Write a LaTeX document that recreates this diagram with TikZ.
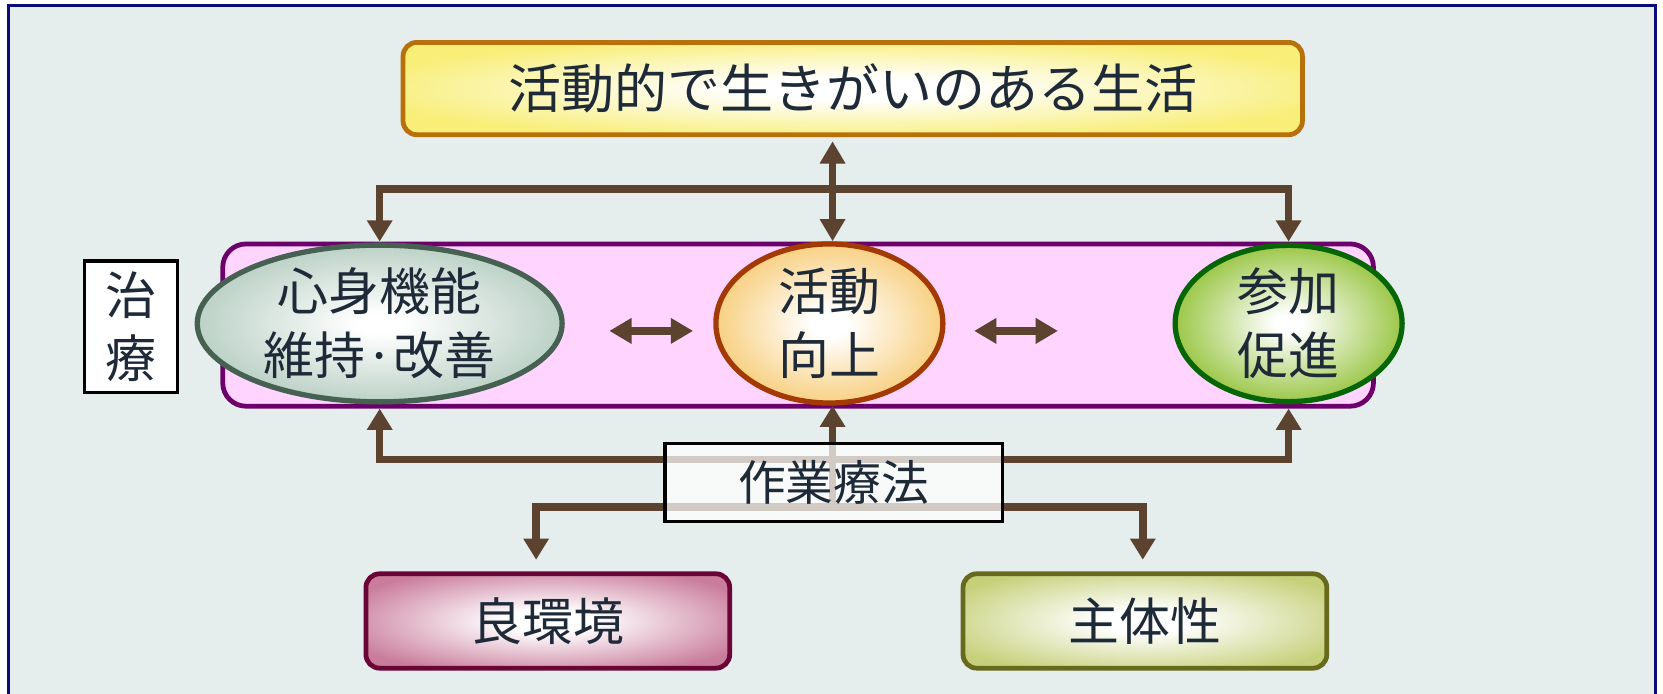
\documentclass[tikz,border=0pt]{standalone}
\usepackage{fontspec}
\setmainfont{Noto Sans CJK JP}
\usetikzlibrary{shapes.geometric,arrows.meta,calc}
\definecolor{bgc}{HTML}{E5EEED}
\definecolor{framec}{HTML}{0A0A78}
\definecolor{txtc}{HTML}{1F2A38}
\definecolor{arrc}{HTML}{5B4330}
\definecolor{yelc}{HTML}{F8EE78}
\definecolor{yelb}{HTML}{B8700A}
\definecolor{pinkf}{HTML}{FFD4FF}
\definecolor{pinkb}{HTML}{6B006B}
\definecolor{bodyc}{HTML}{B3CBBF}
\definecolor{bodyb}{HTML}{466152}
\definecolor{actc}{HTML}{F6C565}
\definecolor{actb}{HTML}{A33A05}
\definecolor{partc}{HTML}{93C238}
\definecolor{partb}{HTML}{066606}
\definecolor{envc}{HTML}{C97C9B}
\definecolor{envb}{HTML}{6A0636}
\definecolor{subjc}{HTML}{C6D07A}
\definecolor{subjb}{HTML}{676A1C}
\pgfdeclareradialshading{shYel}{\pgfpoint{0bp}{0bp}}{color(0bp)=(white);color(6bp)=(white);color(28bp)=(yelc);color(50bp)=(yelc)}
\pgfdeclareradialshading{shBody}{\pgfpoint{0bp}{0bp}}{color(0bp)=(white);color(3bp)=(white);color(28bp)=(bodyc);color(50bp)=(bodyc)}
\pgfdeclareradialshading{shAct}{\pgfpoint{0bp}{0bp}}{color(0bp)=(white);color(4bp)=(white);color(30bp)=(actc);color(50bp)=(actc)}
\pgfdeclareradialshading{shPart}{\pgfpoint{0bp}{0bp}}{color(0bp)=(white);color(3bp)=(white);color(27bp)=(partc);color(50bp)=(partc)}
\pgfdeclareradialshading{shEnv}{\pgfpoint{0bp}{0bp}}{color(0bp)=(white);color(6bp)=(white);color(30bp)=(envc);color(50bp)=(envc)}
\pgfdeclareradialshading{shSubj}{\pgfpoint{0bp}{0bp}}{color(0bp)=(white);color(6bp)=(white);color(30bp)=(subjc);color(50bp)=(subjc)}
\begin{document}
\begin{tikzpicture}[x=1pt,y=-1pt,
  every node/.style={text=txtc, font=\fontsize{48}{60}\selectfont, inner sep=0pt, align=center},
  bigtext/.style={font=\fontsize{50}{60}\selectfont},
  arr/.style={draw=arrc, line width=7pt, -{Triangle[length=20pt,width=23pt]}},
  darr/.style={draw=arrc, line width=7pt, {Triangle[length=21pt,width=23pt]}-{Triangle[length=21pt,width=23pt]}},
  roundbox/.style={rectangle, rounded corners=13pt, line width=4.5pt},
  ell/.style={ellipse, line width=5pt}
]
\useasboundingbox (0,0) rectangle (1568,654);
\clip (0,0) rectangle (1568,654);
\fill[white] (0,0) rectangle (1568,654);
\draw[draw=framec, line width=3pt, fill=bgc] (8,5) rectangle (1561,690);

% top goal
\node[roundbox, bigtext, draw=yelb, shading=shYel, minimum width=848pt, minimum height=87pt] (top) at (804,83.5) {活動的で生きがいのある生活};

% pink band
\node[rectangle, rounded corners=22pt, draw=pinkb, fill=pinkf, line width=4.5pt, minimum width=1085pt, minimum height=153pt] (band) at (752.5,306.5) {};

% treatment label
\node[rectangle, draw=black, fill=white, line width=3pt, minimum width=87pt, minimum height=124pt] (chiryo) at (123.5,308) {治\\療};

% ellipses
\node[ell, draw=bodyb, shading=shBody, minimum width=344pt, minimum height=144pt] (body) at (358,305) {心身機能\\維持·改善};
\node[ell, draw=actb, shading=shAct, minimum width=214pt, minimum height=150pt] (act) at (782,305) {活動\\向上};
\node[ell, draw=partb, shading=shPart, minimum width=214pt, minimum height=144pt] (part) at (1215,305) {参加\\促進};

% top connectors
\coordinate (tj) at (785,178);
\draw[darr, shorten <=4pt] (top.south -| tj) -- (act.north -| tj);
\draw[arr] (tj) -| (body.north |- band.north);
\draw[arr] (tj) -| (part.north |- band.north);

% horizontal double arrows
\draw[darr] ([xshift=42pt,yshift=-7pt]body.east) -- ([xshift=-19pt,yshift=-7pt]act.west);
\draw[darr] ([xshift=27pt,yshift=-7pt]act.east) -- ([xshift=-108pt,yshift=-7pt]part.west);

% bottom boxes
\node[roundbox, draw=envb, shading=shEnv, minimum width=343pt, minimum height=89pt] (env) at (516.5,585.5) {良環境};
\node[roundbox, draw=subjb, shading=shSubj, minimum width=343pt, minimum height=89pt] (subj) at (1079.5,585.5) {主体性};

% bottom connectors
\coordinate (bj) at (785,433);
\coordinate (lj) at (785,478);
\draw[arr] (bj) -| (body.south |- band.south);
\draw[arr] (bj) -| (part.south |- band.south);
\draw[arr] (lj) -- (act.south -| lj);
\draw[arr] (lj) -| ([xshift=-11pt,yshift=11pt]env.north);
\draw[arr] (lj) -| ([xshift=-2pt,yshift=11pt]subj.north);

% occupational therapy label (semi-transparent)
\node[rectangle, draw=black, fill=white, fill opacity=0.72, text opacity=1, line width=3pt, minimum width=318pt, minimum height=74pt, font=\fontsize{45}{54}\selectfont] (ot) at (786,455) {作業療法};
\end{tikzpicture}
\end{document}
